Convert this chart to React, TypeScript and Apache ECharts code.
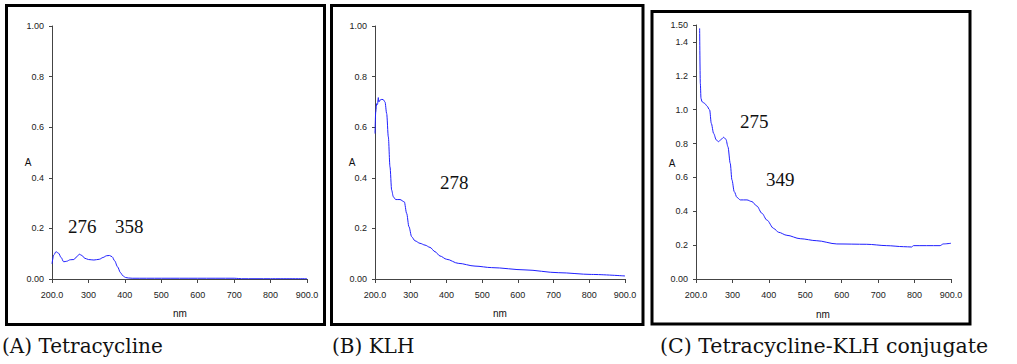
import React, { useEffect, useRef } from "react";
import * as echarts from "echarts";

// Panel A: Tetracycline
const WL_A = [200, 205, 211, 218, 225, 232, 240, 250, 260, 268, 275, 282, 290, 300, 315, 330, 340, 350, 358, 365, 372, 380, 388, 395, 402, 410, 420, 500, 600, 700, 712, 720, 800, 900];
const ABS_A = [0.06, 0.095, 0.108, 0.102, 0.085, 0.068, 0.07, 0.076, 0.077, 0.088, 0.098, 0.093, 0.082, 0.077, 0.075, 0.078, 0.085, 0.092, 0.093, 0.088, 0.072, 0.048, 0.025, 0.012, 0.006, 0.004, 0.003, 0.003, 0.003, 0.003, 0.002, 0.001, 0.001, 0.001];

// Panel B: KLH
const WL_B = [200, 202, 204.7, 207, 209.3, 211, 214, 219, 223, 228, 232.7, 237.3, 242, 246.7, 251.3, 257.9, 270, 282, 288.7, 295, 302.7, 312, 326, 340, 354, 368, 382, 400.7, 433, 480, 526.7, 620, 713, 806.7, 900];
const ABS_B = [0.575, 0.66, 0.693, 0.69, 0.717, 0.7, 0.707, 0.71, 0.709, 0.7, 0.654, 0.562, 0.443, 0.351, 0.325, 0.314, 0.314, 0.305, 0.259, 0.207, 0.167, 0.151, 0.141, 0.134, 0.125, 0.108, 0.091, 0.078, 0.062, 0.051, 0.045, 0.036, 0.025, 0.018, 0.012];

// Panel C: Tetracycline-KLH conjugate
const WL_C = [210, 211.9, 213.7, 216.4, 223.8, 230, 237.5, 242, 248.4, 255.7, 262, 269.4, 275.8, 282.2, 287.7, 294, 298.7, 305, 312.4, 321.5, 339.8, 353.5, 367, 381, 394.6, 413, 426.6, 449.5, 486, 531.7, 586.5, 668.8, 723.6, 769.3, 792, 797, 869.8, 879, 900];
const ABS_C = [1.48, 1.155, 1.067, 1.047, 1.037, 1.022, 0.998, 0.919, 0.86, 0.821, 0.811, 0.825, 0.837, 0.825, 0.781, 0.683, 0.585, 0.516, 0.482, 0.467, 0.467, 0.457, 0.431, 0.388, 0.348, 0.299, 0.276, 0.258, 0.238, 0.226, 0.207, 0.205, 0.197, 0.191, 0.189, 0.197, 0.197, 0.207, 0.211];

const CAPTIONS = ["(A) Tetracycline", "(B) KLH", "(C) Tetracycline-KLH conjugate"];
const PEAKS_A = ["276", "358"];
const PEAKS_B = ["278"];
const PEAKS_C = ["275", "349"];
const X_NAME = "nm";
const Y_NAME = "A";

const TICK_FONT = "'Liberation Sans Narrow', 'Arial Narrow', 'Liberation Sans', sans-serif";
const SERIF = "'Liberation Serif', 'Times New Roman', serif";
const CAP_FONT = "'DejaVu Serif', serif";
const LINE_COLOR = "#1f1fff";

function pairs(x: number[], y: number[]) {
  return x.map((v, i) => [v, y[i]]);
}

function xFmt(v: number) {
  if (v === 200 || v === 900) return v.toFixed(1);
  return String(Math.round(v));
}

function yFmt(max: number) {
  return (v: number) => {
    if (Math.abs(v) < 1e-9) return "0.00";
    if (Math.abs(v - max) < 1e-9) return v.toFixed(2);
    return v.toFixed(1);
  };
}

export default function App() {
  const ref = useRef<HTMLDivElement>(null);
  useEffect(() => {
    if (!ref.current) return;
    const chart = echarts.init(ref.current, null, { renderer: "svg" });
    const grids = [
      { left: 52, top: 26, width: 255, height: 253 },
      { left: 375, top: 26, width: 250, height: 253 },
      { left: 696, top: 25, width: 255, height: 254 },
    ];
    const maxes = [1, 1, 1.5];
    const axisCommon = {
      axisLine: { show: true, lineStyle: { color: "#444", width: 1 } },
      splitLine: { show: false },
    };
    const xAxis = grids.map((_, i) => ({
      type: "value",
      gridIndex: i,
      min: 200,
      max: 900,
      interval: 100,
      ...axisCommon,
      axisTick: { show: true, length: 4, lineStyle: { color: "#444" } },
      axisLabel: { formatter: xFmt, fontSize: 9, color: "#222", fontFamily: TICK_FONT, margin: 11 },
    }));
    const yAxis = grids.map((_, i) => ({
      type: "value",
      gridIndex: i,
      min: 0,
      max: maxes[i],
      interval: 0.2,
      ...axisCommon,
      axisTick: { show: true, length: 3, lineStyle: { color: "#444" } },
      axisLabel: { formatter: yFmt(maxes[i]), fontSize: 9, color: "#222", fontFamily: TICK_FONT, margin: 8 },
    }));
    const datas = [pairs(WL_A, ABS_A), pairs(WL_B, ABS_B), pairs(WL_C, ABS_C)];
    const series = datas.map((d, i) => ({
      type: "line",
      xAxisIndex: i,
      yAxisIndex: i,
      data: d,
      showSymbol: false,
      smooth: 0.3,
      smoothMonotone: "x",
      lineStyle: { color: LINE_COLOR, width: 1 },
      clip: true,
    }));

    const txt = (x: number, y: number, text: string, font: string, size: number, align = "left") => ({
      type: "text",
      x,
      y,
      style: { text, fontFamily: font, fontSize: size, fill: "#111", align, verticalAlign: "middle" },
      silent: true,
    });

    const borders = [
      { x: 6.5, y: 5.5, w: 318, h: 319 },
      { x: 331.5, y: 5.5, w: 311.5, h: 319 },
      { x: 652, y: 11.5, w: 318, h: 312.5 },
    ].map((b) => ({
      type: "rect",
      shape: { x: b.x, y: b.y, width: b.w, height: b.h },
      style: { fill: "none", stroke: "#000", lineWidth: 3 },
      silent: true,
    }));

    const graphic: any[] = [
      ...borders,
      txt(28, 162, Y_NAME, TICK_FONT, 10, "center"),
      txt(352, 162, Y_NAME, TICK_FONT, 10, "center"),
      txt(672, 163, Y_NAME, TICK_FONT, 10, "center"),
      txt(180, 313, X_NAME, TICK_FONT, 10, "center"),
      txt(500, 313, X_NAME, TICK_FONT, 10, "center"),
      txt(823, 314, X_NAME, TICK_FONT, 10, "center"),
      txt(68, 226, PEAKS_A[0], SERIF, 19),
      txt(115, 226, PEAKS_A[1], SERIF, 19),
      txt(440, 182, PEAKS_B[0], SERIF, 19),
      txt(740, 121, PEAKS_C[0], SERIF, 19),
      txt(766, 179, PEAKS_C[1], SERIF, 19),
      txt(2, 346, CAPTIONS[0], CAP_FONT, 20),
      txt(332, 346, CAPTIONS[1], CAP_FONT, 20),
      txt(660, 346, CAPTIONS[2], CAP_FONT, 20.5),
    ];

    chart.setOption({
      animation: false,
      backgroundColor: "#fff",
      grid: grids,
      xAxis,
      yAxis,
      series,
      graphic,
    } as any);
    return () => chart.dispose();
  }, []);
  return (
    <div
      ref={ref}
      style={{ position: "fixed", left: 0, top: 0, width: 1017, height: 364 }}
    />
  );
}
